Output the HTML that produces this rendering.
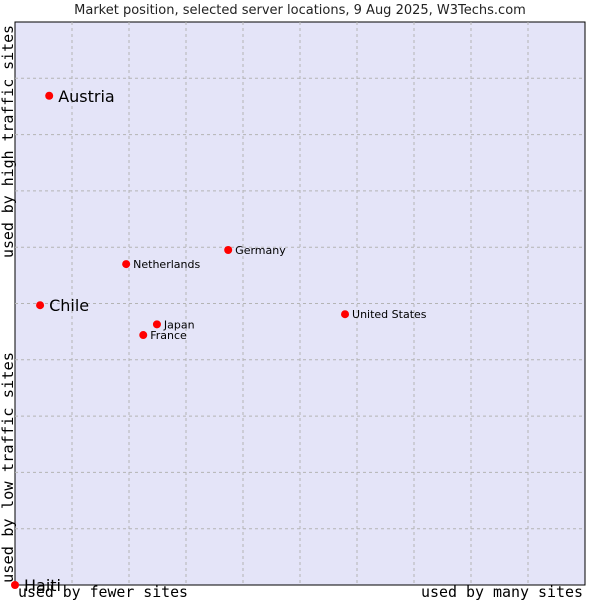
<!DOCTYPE html>
<html><head><meta charset="utf-8"><style>
body{margin:0;background:#fff;}
svg{display:block;font-family:"DejaVu Sans","Liberation Sans",sans-serif;}
.mono{font-family:"DejaVu Sans Mono","Liberation Mono",monospace;font-size:15px;fill:#000;}
</style></head><body>
<svg id="chart" width="600" height="600">
<text x="300" y="14" text-anchor="middle" font-size="13" fill="#222">Market position, selected server locations, 9 Aug 2025, W3Techs.com</text>
<rect x="15" y="22" width="570" height="563" fill="#e4e4f8" stroke="#000" stroke-width="1"/>
<g id="grid"></g>
<g id="points"></g>
<text class="mono" x="18" y="597" textLength="170" lengthAdjust="spacingAndGlyphs">used by fewer sites</text>
<text class="mono" x="421" y="597" textLength="162" lengthAdjust="spacingAndGlyphs">used by many sites</text>
<text class="mono" transform="translate(13,583) rotate(-90)" textLength="231" lengthAdjust="spacingAndGlyphs">used by low traffic sites</text>
<text class="mono" transform="translate(13,258) rotate(-90)" textLength="233" lengthAdjust="spacingAndGlyphs">used by high traffic sites</text>
</svg>
<script>
const names=["Austria","Chile","Netherlands","Germany","United States","Japan","France","Haiti"];
const xVals=[6.0,4.4,19.5,37.4,57.9,24.9,22.5,0];
const yVals=[86.9,49.7,57.0,59.5,48.1,46.3,44.4,0];
const bigLabels=["Austria","Chile","Haiti"];
const L=15,T=22,W=570,H=563;
const sx=v=>L+v/100*W, sy=v=>T+H-v/100*H;
const NS="http://www.w3.org/2000/svg";
const grid=document.getElementById('grid');
for(let i=1;i<10;i++){
 const v=document.createElementNS(NS,'line');
 
 
 v.setAttribute('x1',sx(i*10));v.setAttribute('x2',sx(i*10));v.setAttribute('y1',T);v.setAttribute('y2',T+H);
 v.setAttribute('stroke','#b4b4b4');v.setAttribute('stroke-dasharray','3,3');grid.appendChild(v);
 const h=document.createElementNS(NS,'line');
 
 
 h.setAttribute('y1',sy(i*10));h.setAttribute('y2',sy(i*10));h.setAttribute('x1',L);h.setAttribute('x2',L+W);
 h.setAttribute('stroke','#b4b4b4');h.setAttribute('stroke-dasharray','3,3');grid.appendChild(h);
}
const pts=document.getElementById('points');
names.forEach((n,i)=>{
 const x=sx(xVals[i]),y=sy(yVals[i]);
 const c=document.createElementNS(NS,'circle');
 
 
 c.setAttribute('cx',x);c.setAttribute('cy',y);c.setAttribute('r',4);c.setAttribute('fill','#f00');
 pts.appendChild(c);
 const big=bigLabels.includes(n);
 const t=document.createElementNS(NS,'text');
 
 
 t.setAttribute('x',x+(big?9:7));t.setAttribute('y',y+(big?6:4));
 t.setAttribute('font-size',big?16:11);t.setAttribute('fill','#000');
 t.textContent=n;pts.appendChild(t);
});
</script>
</body></html>
